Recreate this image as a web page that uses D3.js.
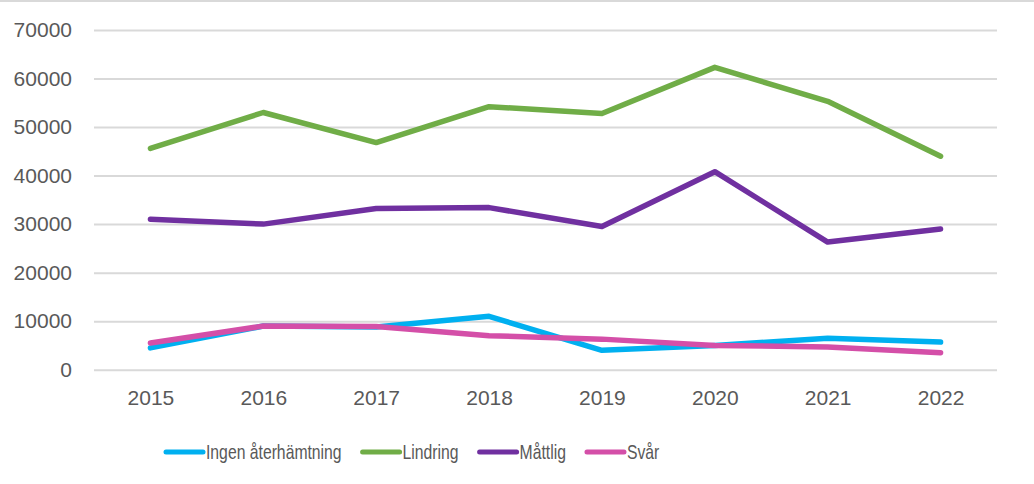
<!DOCTYPE html>
<html lang="sv">
<head>
<meta charset="UTF-8">
<script src="https://d3js.org/d3.v7.min.js"></script>
<style>
  body { margin: 0; background: #fff; }
  text { font-family: "Liberation Sans", sans-serif; fill: #595959; }
</style>
</head>
<body>
<div id="chart"></div>
<script>
  // data
  var years = ["2015", "2016", "2017", "2018", "2019", "2020", "2021", "2022"];
  var ingen = [4500, 9000, 8800, 11000, 4000, 5000, 6500, 5700];
  var lindring = [45600, 53000, 46800, 54200, 52800, 62300, 55300, 44000];
  var mattlig = [31000, 30000, 33200, 33400, 29500, 40800, 26300, 29000];
  var svar = [5500, 9000, 8900, 7000, 6300, 5000, 4700, 3500];
  var yTicks = [0, 10000, 20000, 30000, 40000, 50000, 60000, 70000];

  var series = [
    { name: "Ingen återhämtning", values: ingen, color: "#00b0f0" },
    { name: "Lindring", values: lindring, color: "#70ad47" },
    { name: "Måttlig", values: mattlig, color: "#7030a0" },
    { name: "Svår", values: svar, color: "#d44fa8" }
  ];

  var W = 1034, H = 484;
  var margin = { top: 30, right: 37, bottom: 114, left: 94 };

  var svg = d3.select("#chart").append("svg")
    .attr("width", W).attr("height", H);

  // thin frame line along the top
  svg.append("line")
    .attr("x1", 0).attr("x2", W).attr("y1", 1).attr("y2", 1)
    .attr("stroke", "#d9d9d9").attr("stroke-width", 2);

  var x = d3.scalePoint().domain(years)
    .range([margin.left, W - margin.right]).padding(0.5);
  var y = d3.scaleLinear().domain([0, 70000])
    .range([H - margin.bottom - 0.3, margin.top]);

  // gridlines + y labels
  svg.append("g")
    .attr("transform", "translate(" + margin.left + ",0)")
    .call(d3.axisLeft(y).tickValues(yTicks).tickSize(-(W - margin.right - margin.left)).tickFormat(d3.format("d")).tickPadding(22))
    .call(function (g) {
      g.select(".domain").remove();
      g.selectAll(".tick line").attr("stroke", "#d9d9d9").attr("stroke-width", 2);
      g.selectAll(".tick text").style("font-size", "21px").attr("fill", "#595959");
    });

  // x labels
  svg.append("g")
    .attr("transform", "translate(0," + (H - margin.bottom) + ")")
    .call(d3.axisBottom(x).tickSize(0).tickPadding(20))
    .call(function (g) {
      g.select(".domain").remove();
      g.selectAll(".tick text").style("font-size", "21px").attr("fill", "#595959");
    });

  var line = d3.line()
    .x(function (d, i) { return x(years[i]); })
    .y(function (d) { return y(d); });

  svg.selectAll("path.series")
    .data(series)
    .enter().append("path")
    .attr("class", "series")
    .attr("d", function (d) { return line(d.values); })
    .attr("fill", "none")
    .attr("stroke", function (d) { return d.color; })
    .attr("stroke-width", 5.5)
    .attr("stroke-linecap", "round")
    .attr("stroke-linejoin", "round");

  // legend (text squeezed a bit to mimic the narrow original font)
  var legend = svg.append("g");
  var swatch = 37, gap = 3, itemGap = 21, squeeze = 0.75, cursor = 0;
  series.forEach(function (s) {
    var g = legend.append("g").attr("transform", "translate(" + cursor + ",0)");
    g.append("line").attr("x1", 0).attr("x2", swatch).attr("y1", 0).attr("y2", 0)
      .attr("stroke", s.color).attr("stroke-width", 5).attr("stroke-linecap", "round");
    var t = g.append("text")
      .attr("transform", "translate(" + (swatch + gap) + ",0) scale(" + squeeze + ",1)")
      .attr("dy", "0.35em")
      .style("font-size", "21px").text(s.name);
    cursor += swatch + gap + t.node().getComputedTextLength() * squeeze + itemGap;
  });
  legend.attr("transform", "translate(" + (margin.left + 72) + ",452)");
</script>
</body>
</html>
